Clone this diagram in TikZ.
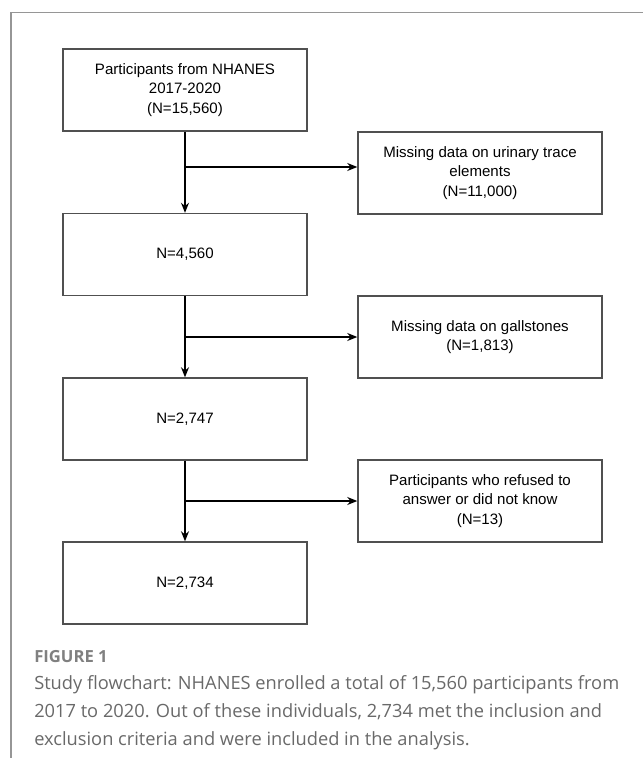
\documentclass[tikz,border=0pt]{standalone}
\usepackage{fontspec}
\setmainfont{Liberation Sans}
\newfontfamily\captionfont{Open Sans}
\usetikzlibrary{arrows.meta, positioning}
\definecolor{framegray}{RGB}{150,150,150}
\definecolor{boxborder}{RGB}{80,80,80}
\definecolor{captiongray}{RGB}{105,105,105}

\begin{document}
\begin{tikzpicture}[
    x=0.75pt, y=-0.75pt,
    stage/.style={draw=boxborder, line width=1.1pt, minimum width=183pt, minimum height=61.5pt, inner sep=0pt, align=center, font=\fontsize{11.3}{14.4}\selectfont},
    flow/.style={-{Stealth[length=7.5pt, width=6pt]}, line width=0.9pt}
]
    \useasboundingbox (0,0) rectangle (643,758);
    % Frame
    \draw[framegray, line width=0.9pt] (11,758) -- (11,12.7) -- (643,12.7);

    % Main stages
    \node[stage] (start) at (185, 90) {Participants from NHANES\\2017-2020\\(N=15,560)};
    \node[stage] (trace) at (185, 254.5) {N=4,560};
    \node[stage] (stones) at (185, 419) {N=2,747};
    \node[stage] (final) at (185, 583) {N=2,734};

    % Exclusions
    \node[stage] (nodata) at (480, 173) {Missing data on urinary trace\\elements\\(N=11,000)};
    \node[stage] (nostones) at (480, 337) {Missing data on gallstones\\(N=1,813)};
    \node[stage] (refused) at (480, 501) {Participants who refused to\\answer or did not know\\(N=13)};

    % Flow
    \draw[flow] (start) -- (trace);
    \draw[flow] (trace) -- (stones);
    \draw[flow] (stones) -- (final);
    \draw[flow] ([yshift=4.5pt]start.south |- nodata.west) -- ([yshift=4.5pt]nodata.west);
    \draw[flow] (trace.south |- nostones.west) -- (nostones.west);
    \draw[flow] (stones.south |- refused.west) -- (refused.west);

    % Caption
    \node[anchor=base west, inner sep=0pt, text=captiongray!85, font=\captionfont\bfseries\fontsize{12.5}{14}\selectfont] (figlabel) at (34, 662) {FIGURE 1};
    \node[anchor=north west, inner sep=0pt, align=left, text=captiongray, font=\captionfont\fontsize{13.7}{21}\selectfont] (caption) at (34, 675) {Study flowchart: NHANES enrolled a total of 15,560 participants from\\2017 to 2020. Out of these individuals, 2,734 met the inclusion and\\exclusion criteria and were included in the analysis.};
\end{tikzpicture}
\end{document}
